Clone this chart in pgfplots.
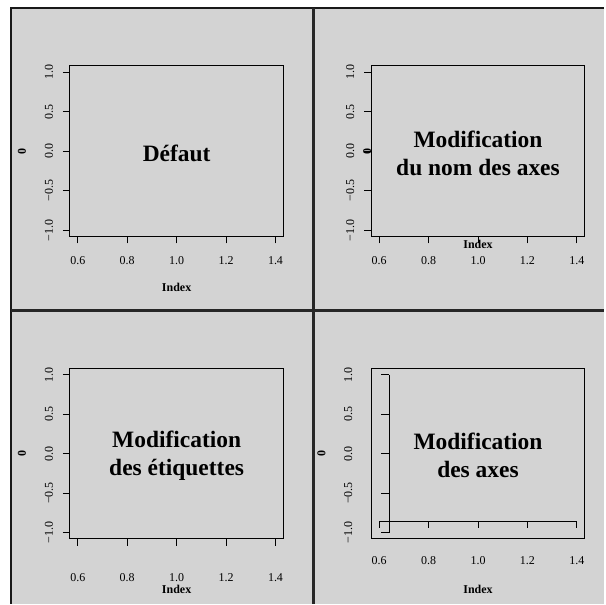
\documentclass[border=0pt]{standalone}
\usepackage{fontspec}
\setmainfont{Liberation Serif}
\usepackage{pgfplots}
\pgfplotsset{compat=1.18}
\definecolor{bggray}{HTML}{D3D3D3}
\tikzset{
 lblfont/.style={font=\fontsize{12}{14}\selectfont\bfseries, inner sep=0pt},
 ttl/.style={font=\fontsize{23.5}{28}\selectfont\bfseries, align=center, yshift=-2pt},
}
\pgfplotsset{
 rbase/.style={
  scale only axis, width=214pt, height=171pt,
  anchor=south west, clip=false,
  xmin=0.568, xmax=1.432, ymin=-1.08, ymax=1.08,
  xtick={0.6,0.8,1.0,1.2,1.4}, xticklabels={0.6,0.8,1.0,1.2,1.4},
  ytick={-1,-0.5,0,0.5,1}, yticklabels={−1.0,−0.5,0.0,0.5,1.0},
  tick align=outside, tick pos=left, major tick length=7pt,
  axis line style={line width=1pt, black},
  every tick/.style={black, line width=1pt},
  tick label style={font=\fontsize{12}{14}\selectfont, inner sep=0pt},
  xticklabel style={anchor=center},
  yticklabel style={rotate=90, anchor=center},
  xticklabel shift=17pt,
  yticklabel shift=14pt,
  xlabel={Index}, ylabel={0},
  xlab/.style={every axis x label/.style={at={(rel axis cs:0.5,0)}, yshift=-##1, lblfont, anchor=center}},
  ylab/.style={every axis y label/.style={at={(rel axis cs:0,0.5)}, xshift=-##1, rotate=90, lblfont, anchor=center}},
  xlab=51pt, ylab=48pt,
 },
}
\begin{document}
\begin{tikzpicture}[x=1pt,y=1pt]
\fill[white] (0,0) rectangle (605,605);
\fill[bggray] (11,0) rectangle (605,597);
\draw[line width=1.5pt, black!90] (11,0) -- (11,597) -- (605,597);
\draw[line width=2.5pt, black!85] (314,0) -- (314,597);
\draw[line width=2.5pt, black!85] (11,294) -- (605,294);

% Panel 1
\begin{axis}[rbase, at={(70pt,368pt)}]
\addplot[draw=none] coordinates {(1,0)};
\node[ttl] at (rel axis cs:0.5,0.5) {Défaut};
\end{axis}

% Panel 2
\begin{axis}[rbase, at={(372pt,368pt)}, xlab=8pt, ylab=4pt]
\addplot[draw=none] coordinates {(1,0)};
\node[ttl] at (rel axis cs:0.5,0.5) {Modification\\du nom des axes};
\end{axis}

% Panel 3
\begin{axis}[rbase, at={(70pt,65pt)}, xticklabel shift=32pt, xlab=51pt]
\addplot[draw=none] coordinates {(1,0)};
\node[ttl] at (rel axis cs:0.5,0.5) {Modification\\des étiquettes};
\end{axis}

% Panel 4
\begin{axis}[rbase, at={(372pt,65pt)}, xtick style={draw=none}, ytick style={draw=none},
  xticklabel shift=15pt, yticklabel shift=16pt, xlab=51pt, ylab=50pt]
\addplot[draw=none] coordinates {(1,0)};
\draw[line width=1pt] (axis cs:0.6,-0.86) -- (axis cs:1.4,-0.86);
\pgfplotsinvokeforeach{0.6,0.8,1.0,1.2,1.4}{
  \draw[line width=1pt] (axis cs:#1,-0.86) -- ([yshift=-7pt]axis cs:#1,-0.86);
}
\draw[line width=1pt] (axis cs:0.64,-1) -- (axis cs:0.64,1);
\pgfplotsinvokeforeach{-1,-0.5,0,0.5,1}{
  \draw[line width=1pt] (axis cs:0.64,#1) -- ([xshift=-8pt]axis cs:0.64,#1);
}
\node[ttl] at (rel axis cs:0.5,0.5) {Modification\\des axes};
\end{axis}
\end{tikzpicture}
\end{document}
